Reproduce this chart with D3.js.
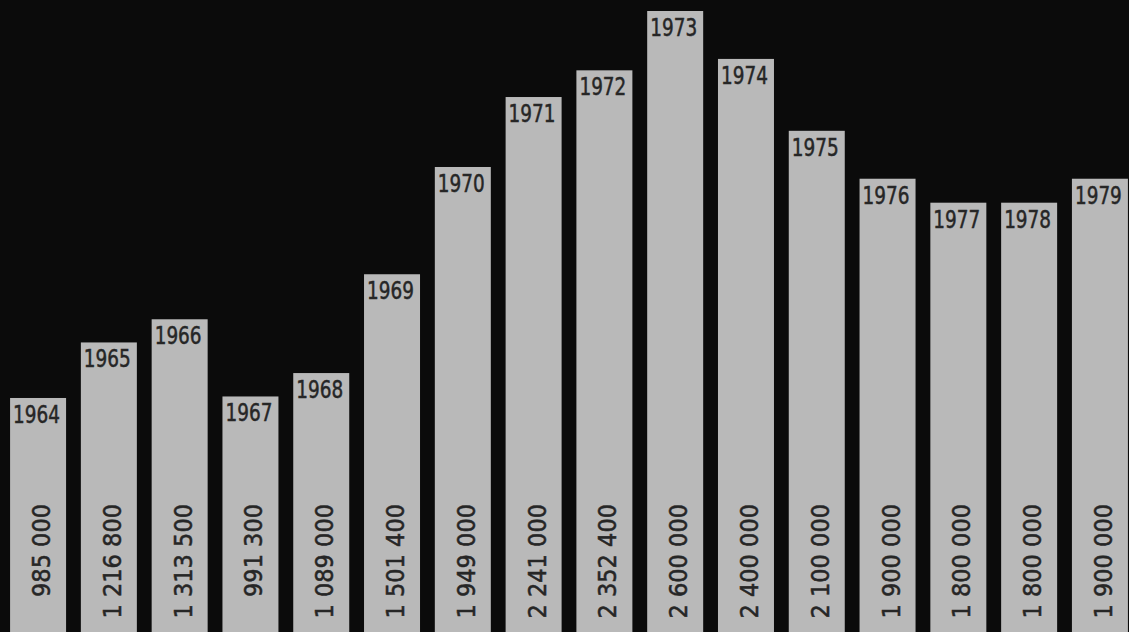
<!DOCTYPE html>
<html>
<head>
<meta charset="utf-8">
<script src="https://cdn.jsdelivr.net/npm/d3@7"></script>
<style>
  html, body { margin: 0; padding: 0; background: #0b0b0b; }
  svg { display: block; }
</style>
</head>
<body>
<svg id="chart"></svg>
<script>
// data
const years = ["1964", "1965", "1966", "1967", "1968", "1969", "1970", "1971",
  "1972", "1973", "1974", "1975", "1976", "1977", "1978", "1979"];
const values = [985000, 1216800, 1313500, 991300, 1089000, 1501400, 1949000, 2241000,
  2352400, 2600000, 2400000, 2100000, 1900000, 1800000, 1800000, 1900000];

const width = 1129, height = 632;
const font = "'DejaVu Sans Condensed', 'DejaVu Sans', sans-serif";

const svg = d3.select("#chart").attr("width", width).attr("height", height);

svg.append("rect").attr("width", width).attr("height", height).attr("fill", "#0b0b0b");

const x = d3.scaleBand().domain(years).range([3, 1135]).paddingInner(0.209).paddingOuter(0.1);
const y = d3.scaleLinear().domain([0, 2600000]).range([634, 11]);

const rows = years.map((yr, i) => ({ year: yr, value: values[i] }));
const fmt = v => d3.format(",")(v).replace(/,/g, " ");

const bars = svg.append("g").attr("id", "bars");
const g = bars.selectAll("g").data(rows).join("g");

g.append("rect")
  .attr("x", d => x(d.year))
  .attr("y", d => y(d.value))
  .attr("width", x.bandwidth())
  .attr("height", d => height - y(d.value) + 2)
  .attr("fill", "#b9b9b9");

// year label at top of bar (condensed horizontally)
g.append("text")
  .attr("transform", d => `translate(${x(d.year) + 3},${y(d.value) + 25}) scale(0.82,1)`)
  .attr("font-family", font)
  .attr("font-size", 25)
  .attr("fill", "#262626")
  .attr("stroke", "#262626")
  .attr("stroke-width", 0.5)
  .text(d => d.year);

// value label, rotated, near the bottom
g.append("text")
  .attr("transform", d => `translate(${x(d.year) + x.bandwidth() / 2 + 12},504) rotate(-90)`)
  .attr("text-anchor", "end")
  .attr("font-family", font)
  .attr("font-size", 25)
  .attr("fill", "#262626")
  .attr("stroke", "#262626")
  .attr("stroke-width", 0.5)
  .text(d => fmt(d.value));
</script>
</body>
</html>
